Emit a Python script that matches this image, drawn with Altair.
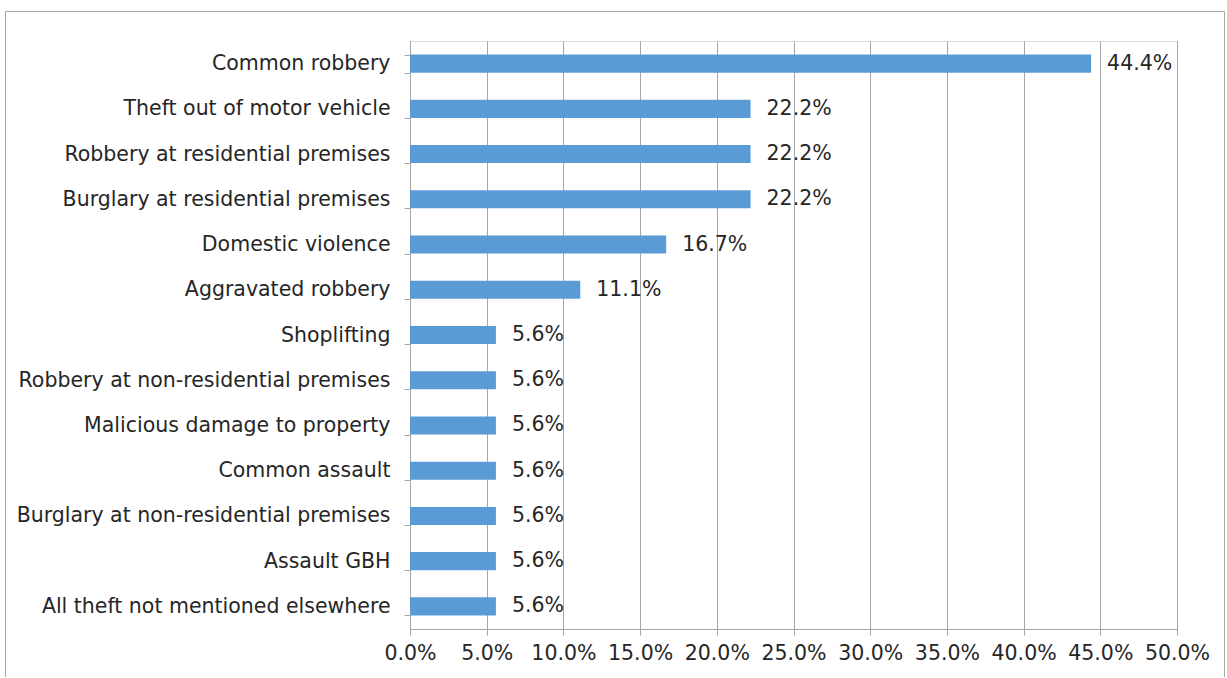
import altair as alt
import pandas as pd

categories = [
    "Common robbery",
    "Theft out of motor vehicle",
    "Robbery at residential premises",
    "Burglary at residential premises",
    "Domestic violence",
    "Aggravated robbery",
    "Shoplifting",
    "Robbery at non-residential premises",
    "Malicious damage to property",
    "Common assault",
    "Burglary at non-residential premises",
    "Assault GBH",
    "All theft not mentioned elsewhere",
]
values = [0.444, 0.222, 0.222, 0.222, 0.167, 0.111, 0.056, 0.056, 0.056, 0.056, 0.056, 0.056, 0.056]

df = pd.DataFrame({"category": categories, "value": values})

FONT = "DejaVu Sans"
TEXT = "#262626"
GRID = "#a6a6a6"
FS = 20.5

W, H = 767, 588

y_enc = alt.Y(
    "category:N",
    sort=categories,
    scale=alt.Scale(paddingInner=0.6, paddingOuter=0.3),
    axis=alt.Axis(
        title=None,
        tickBand="extent",
        tickSize=6,
        tickColor=GRID,
        domainColor=GRID,
        labelPadding=14,
        labelFontSize=FS,
        labelFont=FONT,
        labelColor=TEXT,
        labelLimit=400,
        minExtent=410,
        maxExtent=410,
        grid=False,
    ),
)
x_enc = alt.X(
    "value:Q",
    scale=alt.Scale(domain=[0, 0.5], nice=False),
    axis=alt.Axis(
        title=None,
        format=".1%",
        values=[i * 0.05 for i in range(11)],
        tickSize=6,
        tickColor=GRID,
        domainColor=GRID,
        gridColor=GRID,
        labelFontSize=FS,
        labelFont=FONT,
        labelColor=TEXT,
        labelPadding=8,
        labelOverlap=False,
        labelFlush=False,
    ),
)

bars = alt.Chart(df).mark_bar(color="#5b9bd5").encode(x=x_enc, y=y_enc)
labels = alt.Chart(df).mark_text(
    align="left", dx=16, fontSize=FS, font=FONT, color=TEXT
).encode(x="value:Q", y=alt.Y("category:N", sort=categories), text=alt.Text("value:Q", format=".1%"))

one = df.head(1)
edge = dict(stroke="#a6a6a6", strokeWidth=1, clip=False)
top_edge = alt.Chart(one).mark_rule(**edge).encode(
    x=alt.value(-404.5), x2=alt.value(814.5), y=alt.value(-29.5)
)
left_edge = alt.Chart(one).mark_rule(**edge).encode(
    x=alt.value(-404.5), y=alt.value(-29.5), y2=alt.value(636)
)
right_edge = alt.Chart(one).mark_rule(**edge).encode(
    x=alt.value(814.5), y=alt.value(-29.5), y2=alt.value(636)
)

chart = (
    alt.layer(top_edge, left_edge, right_edge, bars, labels)
    .properties(width=W, height=H, padding={"left": 0, "top": 11, "right": 0, "bottom": 0})
    .configure_view(stroke=None)
    .configure(background="white")
)

chart.save("out.html", embed_options={"renderer": "svg", "actions": False})
